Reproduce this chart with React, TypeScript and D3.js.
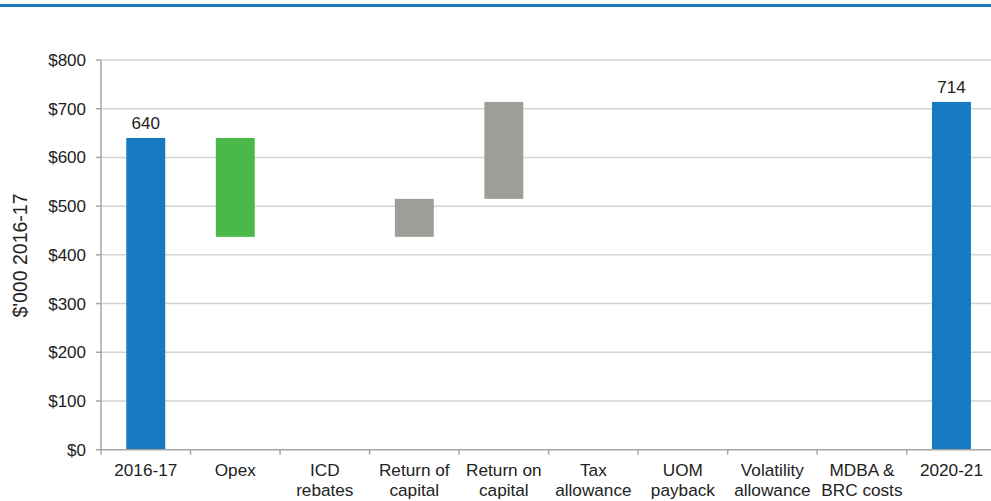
import React from "react";
import * as d3 from "d3";

const categories: string[][] = [
  ["2016-17"],
  ["Opex"],
  ["ICD", "rebates"],
  ["Return of", "capital"],
  ["Return on", "capital"],
  ["Tax", "allowance"],
  ["UOM", "payback"],
  ["Volatility", "allowance"],
  ["MDBA &", "BRC costs"],
  ["2020-21"],
];
// bar start (base) and end values
const barBase = [0, 437, 0, 437, 515, 0, 0, 0, 0, 0];
const barTop = [640, 640, 0, 515, 714, 0, 0, 0, 0, 714];
const barKind = ["total", "green", "none", "grey", "grey", "none", "none", "none", "none", "total"];
const dataLabels: (string | null)[] = ["640", null, null, null, null, null, null, null, null, "714"];
const yTicks = [0, 100, 200, 300, 400, 500, 600, 700, 800];

const colors: Record<string, string> = {
  total: "#157ac0",
  green: "#4bb94a",
  grey: "#9d9e98",
  none: "none",
};

export default function App() {
  const W = 991;
  const H = 501;
  const left = 101;
  const step = 89.52;
  const x = d3
    .scaleBand<number>()
    .domain(categories.map((_, i) => i))
    .range([left, left + step * categories.length])
    .padding(0);
  const y = d3.scaleLinear().domain([0, 800]).range([449.7, 60]);
  const bw = x.bandwidth() * 0.435;
  const font = "'Liberation Sans', Arial, sans-serif";
  const xEnd = left + step * categories.length;

  return (
    <svg
      width={W}
      height={H}
      style={{ position: "absolute", left: 0, top: 0, background: "#fff" }}
      fontFamily={font}
    >
      <rect x={0} y={4} width={W} height={3} fill="#1a7dc2" />
      {yTicks.map((t) =>
        t === 0 ? null : (
          <line key={"g" + t} x1={left} x2={xEnd} y1={y(t)} y2={y(t)} stroke="#d3d3d3" strokeWidth={1.5} />
        )
      )}
      {categories.map((_, i) => {
        if (barKind[i] === "none") return null;
        const cx = (x(i) as number) + x.bandwidth() / 2;
        return (
          <rect
            key={"b" + i}
            x={cx - bw / 2}
            y={y(barTop[i])}
            width={bw}
            height={y(barBase[i]) - y(barTop[i])}
            fill={colors[barKind[i]]}
          />
        );
      })}
      {categories.map((_, i) => {
        const lab = dataLabels[i];
        if (!lab) return null;
        const cx = (x(i) as number) + x.bandwidth() / 2;
        return (
          <text key={"l" + i} x={cx} y={y(barTop[i]) - 8.5} textAnchor="middle" fontSize={17} fill="#222">
            {lab}
          </text>
        );
      })}
      {/* y axis */}
      <line x1={left} x2={left} y1={y(800)} y2={y(0)} stroke="#a6a6a6" strokeWidth={1.5} />
      {yTicks.map((t) => (
        <g key={"t" + t}>
          <line x1={left - 5} x2={left} y1={y(t)} y2={y(t)} stroke="#a6a6a6" strokeWidth={1.5} />
          <text x={86} y={y(t) + 6} textAnchor="end" fontSize={17} fill="#222">
            {"$" + t}
          </text>
        </g>
      ))}
      {/* x axis */}
      <line x1={left} x2={xEnd} y1={y(0)} y2={y(0)} stroke="#a6a6a6" strokeWidth={1.5} />
      {d3.range(categories.length + 1).map((i) => (
        <line
          key={"xt" + i}
          x1={left + i * step}
          x2={left + i * step}
          y1={y(0)}
          y2={y(0) + 5}
          stroke="#a6a6a6"
          strokeWidth={1.5}
        />
      ))}
      {categories.map((lines, i) => {
        const cx = (x(i) as number) + x.bandwidth() / 2;
        return (
          <text key={"c" + i} x={cx} textAnchor="middle" fontSize={17.2} fill="#222">
            {lines.map((ln, j) => (
              <tspan key={j} x={cx} y={476 + j * 19.5}>
                {ln}
              </tspan>
            ))}
          </text>
        );
      })}
      <text
        transform={`translate(26.5, 255.5) rotate(-90)`}
        textAnchor="middle"
        fontSize={19.5}
        fill="#222"
      >
        $'000 2016-17
      </text>
    </svg>
  );
}
